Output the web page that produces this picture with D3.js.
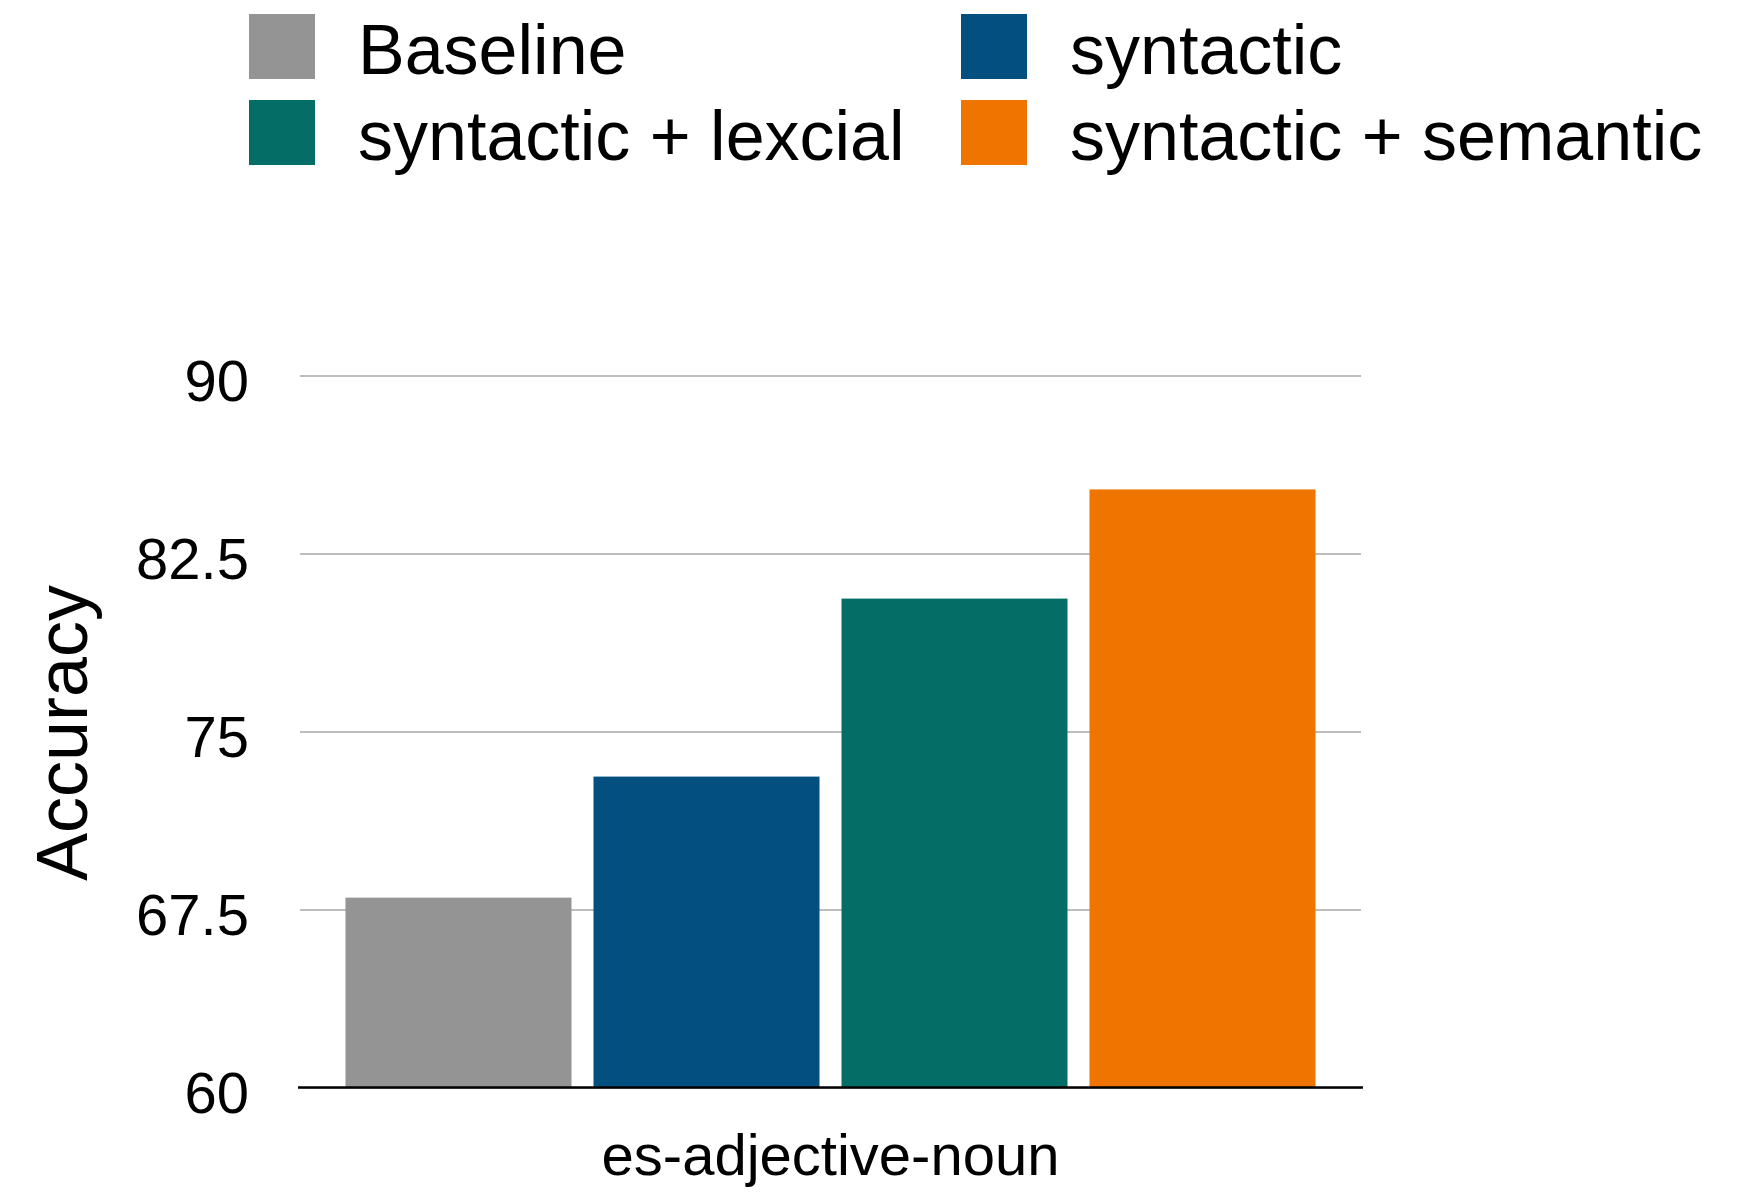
<!DOCTYPE html>
<meta charset="utf-8">
<style>
  body { margin: 0; background: #fff; }
  text { font-family: "Liberation Sans", Arial, Helvetica, sans-serif; fill: #000; }
  .grid line { stroke: #bdbdbd; stroke-width: 2px; shape-rendering: crispEdges; }
  .grid path { display: none; }
</style>
<body>
<script src="https://d3js.org/d3.v7.min.js"></script>
<script>

var categories = ["es-adjective-noun"];
var seriesNames = ["Baseline", "syntactic", "syntactic + lexcial", "syntactic + semantic"];
var seriesColors = ["#949494", "#034f80", "#046e66", "#f07400"];
var accuracy = [68.0, 73.1, 80.6, 85.2];   // one value per series, single category
var yTicks = [60, 67.5, 75, 82.5, 90];

var margin = {top: 375.5, right: 381, bottom: 108.5, left: 300},
    width = 1742 - margin.left - margin.right,
    height = 1196 - margin.top - margin.bottom;

var svg = d3.select("body").append("svg")
    .attr("width", 1742)
    .attr("height", 1196);

var g = svg.append("g")
    .attr("transform", "translate(" + margin.left + "," + margin.top + ")");

// single category: inner padding would be clamped, so use outer padding only
var x0 = d3.scaleBand()
    .domain(categories)
    .range([0, width])
    .paddingInner(0)
    .paddingOuter(0.0469);

var x1 = d3.scaleBand()
    .domain(seriesNames)
    .range([0, x0.bandwidth()])
    .paddingInner(0.0887)
    .paddingOuter(0);

var y = d3.scaleLinear()
    .domain([60, 90])
    .range([height, 0]);

// gridlines
g.append("g")
    .attr("class", "grid")
    .call(d3.axisLeft(y).tickValues(yTicks).tickSize(-width).tickFormat(""));

// tick labels
g.selectAll(".ylab")
  .data(yTicks)
  .enter().append("text")
    .attr("class", "ylab")
    .attr("x", -51)
    .attr("y", function(d) { return y(d); })
    .attr("dy", "0.44em")
    .attr("text-anchor", "end")
    .style("font-size", "58px")
    .text(function(d) { return d; });

// bars
var data = seriesNames.map(function(s, i) {
  return {cat: categories[0], series: s, value: accuracy[i], color: seriesColors[i]};
});

g.selectAll(".bar")
  .data(data)
  .enter().append("rect")
    .attr("class", "bar")
    .attr("x", function(d) { return x0(d.cat) + x1(d.series); })
    .attr("width", x1.bandwidth())
    .attr("y", function(d) { return y(d.value); })
    .attr("height", function(d) { return height - y(d.value); })
    .attr("fill", function(d) { return d.color; });

// x axis line
g.append("line")
    .attr("x1", -2).attr("x2", width + 2)
    .attr("y1", height).attr("y2", height)
    .style("stroke", "#000")
    .style("stroke-width", 2.5);

// category label
g.selectAll(".xlab")
  .data(categories)
  .enter().append("text")
    .attr("class", "xlab")
    .attr("x", function(d) { return x0(d) + x0.bandwidth() / 2; })
    .attr("y", height + 87)
    .attr("text-anchor", "middle")
    .style("font-size", "58px")
    .text(function(d) { return d; });

// y title
svg.append("text")
    .attr("transform", "translate(87," + 733 + ") rotate(-90)")
    .attr("text-anchor", "middle")
    .style("font-size", "72px")
    .text("Accuracy");

// legend, 2 columns
var legend = svg.selectAll(".legend")
  .data(data)
  .enter().append("g")
    .attr("class", "legend")
    .attr("transform", function(d, i) {
      return "translate(" + (249 + (i % 2) * 712) + "," + (14 + Math.floor(i / 2) * 86) + ")";
    });

legend.append("rect")
    .attr("width", 66)
    .attr("height", 65)
    .attr("fill", function(d) { return d.color; });

legend.append("text")
    .attr("x", 109)
    .attr("y", 60)
    .style("font-size", "70px")
    .text(function(d) { return d.series; });

</script>
</body>
